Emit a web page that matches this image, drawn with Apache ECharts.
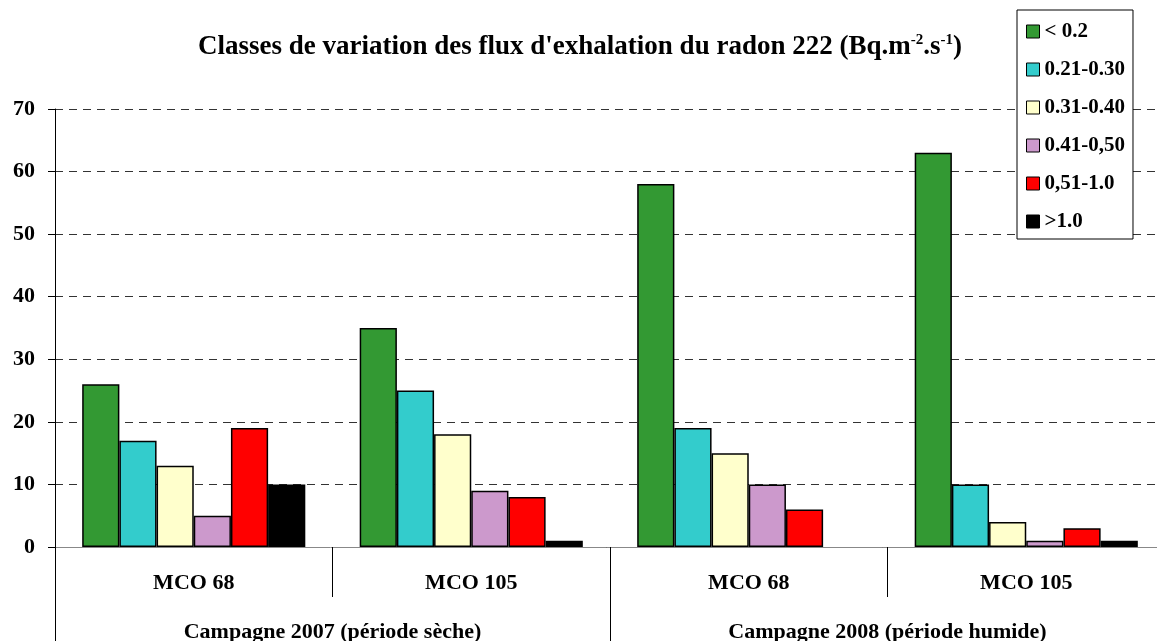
<!DOCTYPE html>
<html>
<head>
<meta charset="utf-8">
<script src="https://cdn.jsdelivr.net/npm/echarts@6/dist/echarts.min.js"></script>
<style>
  html, body { margin: 0; padding: 0; background: #fff; }
  #chart { width: 1157px; height: 641px; }
</style>
</head>
<body>
<div id="chart"></div>
<script>
// données
const sites = ['MCO 68', 'MCO 105', 'MCO 68', 'MCO 105'];
const campagnes = ['Campagne 2007 (période sèche)', 'Campagne 2008 (période humide)'];
const classes = ['< 0.2', '0.21-0.30', '0.31-0.40', '0.41-0,50', '0,51-1.0', '>1.0'];
const colors = ['#339933', '#33cccc', '#ffffcc', '#cc99cc', '#ff0000', '#000000'];

const lt02   = [26, 35, 58, 63];
const c21_30 = [17, 25, 19, 10];
const c31_40 = [13, 18, 15, 4];
const c41_50 = [5, 9, 10, 1];
const c51_10 = [19, 8, 6, 3];
const gt10   = [10, 1, 0, 1];
const seriesValues = [lt02, c21_30, c31_40, c41_50, c51_10, gt10];

const font = '"Liberation Serif", "Times New Roman", serif';

const chart = echarts.init(document.getElementById('chart'), null, { renderer: 'canvas' });

chart.setOption({
  animation: false,
  backgroundColor: '#fff',
  title: {
    text: "Classes de variation des flux d'exhalation du radon 222 (Bq.m{sup|-2}.s{sup|-1})",
    left: 575,
    textAlign: 'center',
    top: 28,
    textStyle: {
      fontFamily: font,
      fontWeight: 'bold',
      fontSize: 27,
      color: '#000',
      rich: {
        sup: { fontFamily: font, fontWeight: 'bold', fontSize: 15, color: '#000', padding: [0, 0, 13, 0] }
      }
    }
  },
  legend: {
    orient: 'vertical',
    left: 1017,
    top: 10,
    padding: [11, 8, 7, 9],
    itemGap: 17,
    itemWidth: 13,
    itemHeight: 13,
    icon: 'rect',
    backgroundColor: '#fff',
    borderColor: '#000',
    borderWidth: 1,
    data: classes,
    textStyle: { fontFamily: font, fontWeight: 'bold', fontSize: 21, color: '#000' },
    itemStyle: { borderColor: '#000', borderWidth: 1 }
  },
  // le graphique d'origine est coupé à droite : la zone de tracé dépasse le cadre
  grid: { left: 55, top: 109, bottom: 94, right: -8, containLabel: false, outerBoundsMode: 'none' },
  xAxis: [
    {
      type: 'category',
      data: sites,
      axisLine: { lineStyle: { color: '#888', width: 1 } },
      axisTick: { show: true, interval: 0, length: 50, lineStyle: { color: '#000' } },
      axisLabel: { interval: 0, margin: 25, fontFamily: font, fontWeight: 'bold', fontSize: 22, color: '#000' }
    },
    {
      type: 'category',
      position: 'bottom',
      data: campagnes,
      axisLine: { show: false },
      axisTick: { show: true, interval: 0, length: 94, lineStyle: { color: '#000' } },
      axisLabel: { interval: 0, margin: 74, fontFamily: font, fontWeight: 'bold', fontSize: 22, color: '#000' }
    }
  ],
  yAxis: {
    type: 'value',
    min: 0,
    max: 70,
    interval: 10,
    axisLine: { show: true, lineStyle: { color: '#000' } },
    axisTick: { show: true, length: 7, lineStyle: { color: '#000' } },
    axisLabel: { margin: 20, fontFamily: font, fontWeight: 'bold', fontSize: 22, color: '#000' },
    splitLine: { show: true, lineStyle: { color: '#333', type: [8, 6], width: 1 } }
  },
  series: classes.map((name, i) => ({
    name,
    type: 'bar',
    xAxisIndex: 0,
    data: seriesValues[i].map(v => (v === 0 ? { value: 0, itemStyle: { borderWidth: 0 } } : v)),
    barGap: '0%',
    barCategoryGap: '19.6%',
    itemStyle: { color: colors[i], borderColor: '#000', borderWidth: 1.5 }
  }))
});
</script>
</body>
</html>
